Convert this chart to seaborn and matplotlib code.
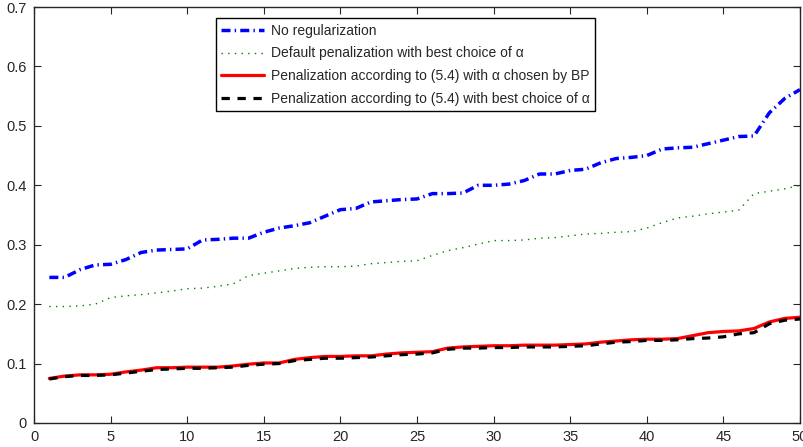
import numpy as np
import pandas as pd
import matplotlib
matplotlib.use('Agg')
import matplotlib.pyplot as plt
import seaborn as sns

runs = list(range(1, 51))

no_reg = [0.245, 0.245, 0.258, 0.266, 0.267, 0.275, 0.287, 0.291, 0.292, 0.293,
          0.308, 0.309, 0.311, 0.311, 0.321, 0.328, 0.332, 0.337, 0.348, 0.359,
          0.361, 0.372, 0.374, 0.376, 0.377, 0.386, 0.386, 0.387, 0.400, 0.400,
          0.402, 0.408, 0.419, 0.419, 0.425, 0.427, 0.438, 0.445, 0.447, 0.450,
          0.461, 0.463, 0.464, 0.470, 0.476, 0.482, 0.483, 0.522, 0.546, 0.561]

default_pen = [0.196, 0.196, 0.197, 0.200, 0.211, 0.214, 0.216, 0.219, 0.222, 0.226,
               0.227, 0.230, 0.234, 0.248, 0.252, 0.256, 0.260, 0.262, 0.263, 0.263,
               0.264, 0.268, 0.270, 0.272, 0.273, 0.282, 0.290, 0.295, 0.301, 0.307,
               0.307, 0.308, 0.311, 0.312, 0.315, 0.318, 0.319, 0.321, 0.322, 0.328,
               0.337, 0.345, 0.348, 0.352, 0.355, 0.358, 0.386, 0.390, 0.394, 0.400]

pen_bp = [0.075, 0.079, 0.081, 0.081, 0.082, 0.086, 0.089, 0.093, 0.093, 0.094,
          0.094, 0.094, 0.096, 0.099, 0.101, 0.101, 0.107, 0.110, 0.112, 0.112,
          0.113, 0.113, 0.116, 0.118, 0.119, 0.120, 0.126, 0.128, 0.129, 0.130,
          0.130, 0.131, 0.131, 0.131, 0.132, 0.133, 0.136, 0.138, 0.140, 0.141,
          0.141, 0.142, 0.147, 0.152, 0.154, 0.155, 0.159, 0.170, 0.176, 0.178]

pen_best = [0.074, 0.078, 0.080, 0.080, 0.081, 0.084, 0.087, 0.090, 0.091, 0.092,
            0.092, 0.093, 0.094, 0.097, 0.099, 0.100, 0.105, 0.107, 0.109, 0.109,
            0.110, 0.111, 0.113, 0.115, 0.116, 0.118, 0.124, 0.126, 0.126, 0.127,
            0.127, 0.128, 0.128, 0.128, 0.129, 0.130, 0.133, 0.136, 0.137, 0.139,
            0.139, 0.140, 0.142, 0.143, 0.145, 0.150, 0.152, 0.167, 0.173, 0.175]

labels = ['No regularization',
          'Default penalization with best choice of \u03b1',
          'Penalization according to (5.4) with \u03b1 chosen by BP',
          'Penalization according to (5.4) with best choice of \u03b1']

#Theme first, then the font list (set_style resets font.family)
sns.set_style('ticks')
plt.rcParams['font.family'] = ['Liberation Sans', 'DejaVu Sans']
plt.rcParams['xtick.direction'] = 'in'
plt.rcParams['ytick.direction'] = 'in'

fig = plt.figure(figsize=(8.04, 4.47), dpi=100)
ax = fig.add_axes([0.0423, 0.0537, 0.9527, 0.9306])

sns.lineplot(x=runs, y=no_reg, ax=ax, color='#0000ff', lw=2.5,
             linestyle=(0, (2.6, 1.2, 0.4, 1.2)), label=labels[0])
sns.lineplot(x=runs, y=default_pen, ax=ax, color='#008000', lw=1.0,
             linestyle=(0, (1, 3.8)), label=labels[1])
sns.lineplot(x=runs, y=pen_bp, ax=ax, color='#ff0000', lw=2.3,
             linestyle='-', label=labels[2])
sns.lineplot(x=runs, y=pen_best, ax=ax, color='k', lw=2.3,
             linestyle=(0, (2.6, 2.4)), label=labels[3])

ax.set_xlim(0, 50)
ax.set_ylim(0, 0.7)
ax.set_xticks(np.arange(0, 51, 5))
ax.set_yticks(np.arange(0, 0.71, 0.1))
ax.set_yticklabels(['0', '0.1', '0.2', '0.3', '0.4', '0.5', '0.6', '0.7'])
ax.tick_params(top=True, right=True, length=5, width=0.8, labelsize=10.5)
ax.tick_params(axis='x', pad=5)
ax.tick_params(axis='y', pad=5)
for sp in ax.spines.values():
    sp.set_linewidth(1.0)
    sp.set_visible(True)

leg = ax.legend(loc='upper left', bbox_to_anchor=(0.237, 0.973), fontsize=10,
                borderaxespad=0, frameon=True, fancybox=False, edgecolor='k',
                framealpha=1, handlelength=3.1, labelspacing=0.62,
                borderpad=0.4, handletextpad=0.5)
leg.get_frame().set_linewidth(1.0)

fig.savefig('out.png', dpi=100)
